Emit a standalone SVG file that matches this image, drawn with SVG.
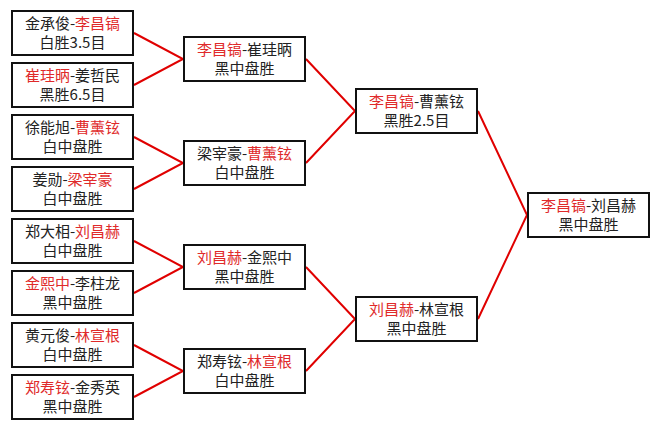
<svg xmlns="http://www.w3.org/2000/svg" width="660" height="429" viewBox="0 0 660 429">
<style>
.box{fill:#fff;stroke:#111;stroke-width:2}
.t{font-family:"Noto Sans CJK SC","Noto Sans",sans-serif;font-size:15px;fill:#222;text-anchor:middle}
.r{fill:#e02a2a}
.c{stroke:#e00000;stroke-width:2;fill:none}
</style>
<rect width="660" height="429" fill="#fff"/>
<g id="connectors">
<polyline class="c" points="134,33 183,59 134,85"/>
<polyline class="c" points="134,137 183,163 134,189"/>
<polyline class="c" points="134,241 183,267 134,293"/>
<polyline class="c" points="134,345 183,371 134,397"/>
<polyline class="c" points="306,59 355,111 306,163"/>
<polyline class="c" points="306,267 355,319 306,371"/>
<polyline class="c" points="478,111 527,215 478,319"/>
</g>
<g id="n1"><rect class="box" x="12" y="11" width="121" height="44"/><text class="t" x="72.5" y="29">金承俊-<tspan class="r">李昌镐</tspan></text><text class="t" x="72.5" y="48">白胜3.5目</text></g>
<g id="n2"><rect class="box" x="12" y="63" width="121" height="44"/><text class="t" x="72.5" y="81"><tspan class="r">崔珪昞</tspan>-姜哲民</text><text class="t" x="72.5" y="100">黑胜6.5目</text></g>
<g id="n3"><rect class="box" x="12" y="115" width="121" height="44"/><text class="t" x="72.5" y="133">徐能旭-<tspan class="r">曹薰铉</tspan></text><text class="t" x="72.5" y="152">白中盘胜</text></g>
<g id="n4"><rect class="box" x="12" y="167" width="121" height="44"/><text class="t" x="72.5" y="185">姜勋-<tspan class="r">梁宰豪</tspan></text><text class="t" x="72.5" y="204">白中盘胜</text></g>
<g id="n5"><rect class="box" x="12" y="219" width="121" height="44"/><text class="t" x="72.5" y="237">郑大相-<tspan class="r">刘昌赫</tspan></text><text class="t" x="72.5" y="256">白中盘胜</text></g>
<g id="n6"><rect class="box" x="12" y="271" width="121" height="44"/><text class="t" x="72.5" y="289"><tspan class="r">金熙中</tspan>-李柱龙</text><text class="t" x="72.5" y="308">黑中盘胜</text></g>
<g id="n7"><rect class="box" x="12" y="323" width="121" height="44"/><text class="t" x="72.5" y="341">黄元俊-<tspan class="r">林宣根</tspan></text><text class="t" x="72.5" y="360">白中盘胜</text></g>
<g id="n8"><rect class="box" x="12" y="375" width="121" height="44"/><text class="t" x="72.5" y="393"><tspan class="r">郑寿铉</tspan>-金秀英</text><text class="t" x="72.5" y="412">黑中盘胜</text></g>
<g id="q1"><rect class="box" x="184" y="37" width="121" height="44"/><text class="t" x="244.5" y="55"><tspan class="r">李昌镐</tspan>-崔珪昞</text><text class="t" x="244.5" y="74">黑中盘胜</text></g>
<g id="q2"><rect class="box" x="184" y="141" width="121" height="44"/><text class="t" x="244.5" y="159">梁宰豪-<tspan class="r">曹薰铉</tspan></text><text class="t" x="244.5" y="178">白中盘胜</text></g>
<g id="q3"><rect class="box" x="184" y="245" width="121" height="44"/><text class="t" x="244.5" y="263"><tspan class="r">刘昌赫</tspan>-金熙中</text><text class="t" x="244.5" y="282">黑中盘胜</text></g>
<g id="q4"><rect class="box" x="184" y="349" width="121" height="44"/><text class="t" x="244.5" y="367">郑寿铉-<tspan class="r">林宣根</tspan></text><text class="t" x="244.5" y="386">白中盘胜</text></g>
<g id="s1"><rect class="box" x="356" y="89" width="121" height="44"/><text class="t" x="416.5" y="107"><tspan class="r">李昌镐</tspan>-曹薰铉</text><text class="t" x="416.5" y="126">黑胜2.5目</text></g>
<g id="s2"><rect class="box" x="356" y="297" width="121" height="44"/><text class="t" x="416.5" y="315"><tspan class="r">刘昌赫</tspan>-林宣根</text><text class="t" x="416.5" y="334">黑中盘胜</text></g>
<g id="f"><rect class="box" x="528" y="193" width="121" height="44"/><text class="t" x="588.5" y="211"><tspan class="r">李昌镐</tspan>-刘昌赫</text><text class="t" x="588.5" y="230">黑中盘胜</text></g>
</svg>
